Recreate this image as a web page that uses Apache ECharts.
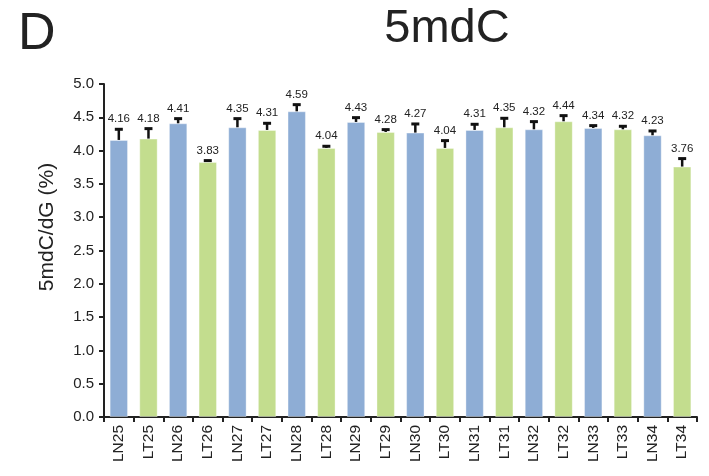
<!DOCTYPE html>
<html>
<head>
<meta charset="utf-8">
<script src="https://cdn.jsdelivr.net/npm/echarts@6/dist/echarts.min.js"></script>
<style>
  html, body { margin: 0; padding: 0; background: #fff; }
  #chart { width: 709px; height: 476px; }
</style>
</head>
<body>
<div id="chart"></div>
<script>
// Samples, alternating normal (LN) and tumour (LT) tissue
const categories = ['LN25','LT25','LN26','LT26','LN27','LT27','LN28','LT28','LN29','LT29',
                    'LN30','LT30','LN31','LT31','LN32','LT32','LN33','LT33','LN34','LT34'];
// Mean 5mdC/dG (%) per sample
const means = [4.16, 4.18, 4.41, 3.83, 4.35, 4.31, 4.59, 4.04, 4.43, 4.28,
               4.27, 4.04, 4.31, 4.35, 4.32, 4.44, 4.34, 4.32, 4.23, 3.76];
// Standard deviation (upper error bar)
const errors = [0.16, 0.15, 0.07, 0.02, 0.13, 0.10, 0.10, 0.025, 0.065, 0.035,
                0.13, 0.11, 0.085, 0.135, 0.115, 0.085, 0.035, 0.045, 0.065, 0.12];
const yTicks = [0, 0.5, 1, 1.5, 2, 2.5, 3, 3.5, 4, 4.5, 5];

const BLUE = '#8eadd5';
const GREEN = '#c3dd8e';
const FONT = 'Liberation Sans, Arial, sans-serif';

const chart = echarts.init(document.getElementById('chart'));

const barData = means.map((v, i) => ({
  value: v,
  itemStyle: { color: categories[i].startsWith('LN') ? BLUE : GREEN }
}));
const errData = means.map((v, i) => [i, v, v + errors[i]]);

chart.setOption({
  animation: false,
  title: [
    { text: 'D', left: 13, top: 4,
      textStyle: { fontFamily: FONT, fontSize: 52, fontWeight: 'normal', color: '#222' } },
    { text: '5mdC', left: 442, top: 1, textAlign: 'center',
      textStyle: { fontFamily: FONT, fontSize: 47, fontWeight: 'normal', color: '#222' } }
  ],
  // rotated y-axis title
  graphic: [
    { type: 'text', x: 47, y: 227, rotation: Math.PI / 2,
      style: { text: '5mdC/dG (%)', fontFamily: FONT, fontSize: 21, fill: '#222',
               textAlign: 'center', textVerticalAlign: 'middle' } }
  ],
  grid: { left: 104, right: 12, top: 84, bottom: 59 },
  xAxis: {
    type: 'category',
    data: categories,
    axisLine: { lineStyle: { color: '#222', width: 2 } },
    axisTick: { show: true, length: 5, lineStyle: { color: '#222', width: 2 } },
    axisLabel: { rotate: 90, fontFamily: FONT, fontSize: 15.5, color: '#222', margin: 8 }
  },
  yAxis: {
    type: 'value',
    min: yTicks[0],
    max: yTicks[yTicks.length - 1],
    interval: 0.5,
    axisLine: { show: true, lineStyle: { color: '#222', width: 2 } },
    axisTick: { show: true, length: 5, lineStyle: { color: '#222', width: 2 } },
    axisLabel: { fontFamily: FONT, fontSize: 15, color: '#222', margin: 10,
                 formatter: v => v.toFixed(1) },
    splitLine: { show: false }
  },
  series: [
    {
      type: 'bar',
      data: barData,
      barWidth: '62%',
      itemStyle: { borderColor: 'rgba(255,255,255,0.35)', borderWidth: 1 }
    },
    {
      type: 'custom',
      data: errData,
      z: 5,
      renderItem: function (params, api) {
        const i = api.value(0);
        const base = api.coord([i, api.value(1)]);
        const top = api.coord([i, api.value(2)]);
        const x = base[0];
        const half = 4;
        return {
          type: 'group',
          children: [
            { type: 'line', shape: { x1: x, y1: base[1], x2: x, y2: top[1] },
              style: { stroke: '#111', lineWidth: 2.5 } },
            { type: 'line', shape: { x1: x - half, y1: top[1], x2: x + half, y2: top[1] },
              style: { stroke: '#111', lineWidth: 3 } },
            { type: 'text', x: x, y: top[1] - 4,
              style: { text: means[i].toFixed(2), textAlign: 'center', textVerticalAlign: 'bottom',
                       fontFamily: 'Liberation Sans Narrow, Liberation Sans, Arial, sans-serif',
                       fontSize: 11.5, fill: '#222' } }
          ]
        };
      }
    }
  ]
});
</script>
</body>
</html>
